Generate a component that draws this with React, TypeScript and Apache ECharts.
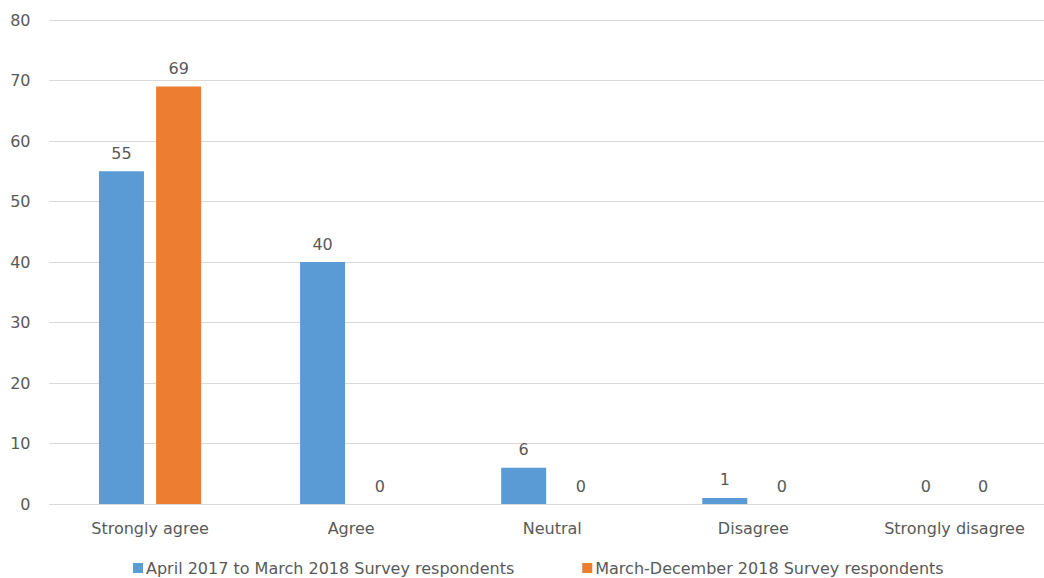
import React, { useEffect, useRef } from "react";
import * as echarts from "echarts";

const categories = ["Strongly agree", "Agree", "Neutral", "Disagree", "Strongly disagree"];
const seriesNames = [
  "April 2017 to March 2018 Survey respondents",
  "March-December 2018 Survey respondents",
];
const firstSurvey = [55, 40, 6, 1, 0];
const secondSurvey = [69, 0, 0, 0, 0];
const colors = ["#5B9BD5", "#ED7D31"];

const FONT = "'DejaVu Sans', 'Noto Sans', sans-serif";
const TEXT = "#595959";
const FONT_SIZE = 16;

export default function App() {
  const ref = useRef<HTMLDivElement>(null);

  useEffect(() => {
    if (!ref.current) return;
    const chart = echarts.init(ref.current, undefined, { renderer: "svg" });
    const valueLabel = {
      show: true,
      position: "top" as const,
      distance: 10,
      color: TEXT,
      fontFamily: FONT,
      fontSize: FONT_SIZE,
    };
    chart.setOption({
      animation: false,
      color: colors,
      textStyle: { fontFamily: FONT },
      grid: { left: 49.5, right: 0, top: 20, bottom: 74, containLabel: false },
      legend: {
        bottom: -3,
        left: 128,
        itemWidth: 10,
        itemHeight: 10,
        itemGap: 68,
        icon: "rect",
        textStyle: { color: TEXT, fontSize: FONT_SIZE, fontFamily: FONT, padding: [0, 0, 0, -2] },
        data: seriesNames,
      },
      xAxis: {
        type: "category",
        data: categories,
        axisLine: { show: true, lineStyle: { color: "#D9D9D9", width: 1 } },
        axisTick: { show: false },
        axisLabel: { color: TEXT, fontSize: FONT_SIZE, fontFamily: FONT, margin: 16 },
      },
      yAxis: {
        type: "value",
        min: 0,
        max: 80,
        interval: 10,
        axisLine: { show: false },
        axisTick: { show: false },
        axisLabel: { color: TEXT, fontSize: FONT_SIZE, fontFamily: FONT, margin: 19 },
        splitLine: { lineStyle: { color: "#D9D9D9", width: 1 } },
      },
      series: [
        {
          name: seriesNames[0],
          type: "bar",
          data: firstSurvey,
          barWidth: 45,
          barGap: "27%",
          label: valueLabel,
        },
        {
          name: seriesNames[1],
          type: "bar",
          data: secondSurvey,
          barWidth: 45,
          barGap: "27%",
          label: valueLabel,
        },
      ],
    });
    return () => chart.dispose();
  }, []);

  return (
    <div style={{ position: "fixed", left: 0, top: 0, width: 1044, height: 578, overflow: "hidden", background: "#fff" }}>
      <div ref={ref} style={{ width: 1055, height: 578 }} />
    </div>
  );
}
